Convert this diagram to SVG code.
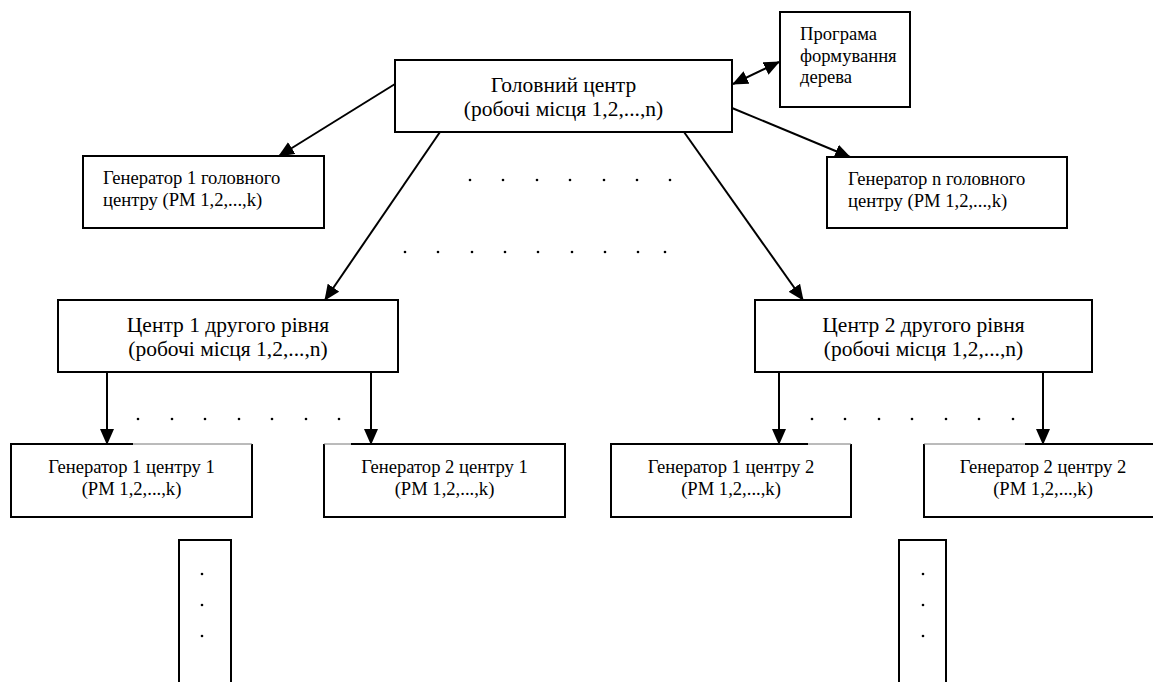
<svg xmlns="http://www.w3.org/2000/svg" width="1153" height="682" viewBox="0 0 1153 682">
<defs>
<marker id="ah" markerUnits="userSpaceOnUse" markerWidth="16" markerHeight="14" viewBox="0 0 16 14" refX="15" refY="7" orient="auto-start-reverse">
<path d="M0,0 L16,7 L0,14 z" fill="#000"/>
</marker>
<style>
.box{fill:#fff;stroke:#000;stroke-width:2}
.edge{fill:none;stroke:#000;stroke-width:2}
.thin{fill:none;stroke:#777;stroke-width:1}
.conn{fill:none;stroke:#000;stroke-width:2;marker-end:url(#ah)}
.big{font-family:"Liberation Serif","Times New Roman",serif;font-size:21.5px;fill:#000}
.sm{font-family:"Liberation Serif","Times New Roman",serif;font-size:18.6px;fill:#000}
.c{text-anchor:middle}
.dot{fill:#000}
</style>
</defs>
<rect width="1153" height="682" fill="#fff"/>

<g id="connectors">
<line class="conn" x1="395" y1="84" x2="279" y2="156"/>
<line class="conn" x1="732" y1="108" x2="850" y2="157"/>
<line class="conn" x1="733" y1="84" x2="779" y2="62" style="marker-start:url(#ah)"/>
<line class="conn" x1="440" y1="132" x2="325" y2="300"/>
<line class="conn" x1="684" y1="132" x2="803" y2="300"/>
<line class="conn" x1="107" y1="372" x2="107" y2="444"/>
<line class="conn" x1="371" y1="372" x2="371" y2="444"/>
<line class="conn" x1="779" y1="372" x2="779" y2="444"/>
<line class="conn" x1="1043" y1="372" x2="1043" y2="444"/>
</g>

<g id="dots">
<circle class="dot" cx="470" cy="180" r="1.3"/><circle class="dot" cx="503" cy="180" r="1.3"/><circle class="dot" cx="537" cy="180" r="1.3"/><circle class="dot" cx="570" cy="180" r="1.3"/><circle class="dot" cx="604" cy="180" r="1.3"/><circle class="dot" cx="637" cy="180" r="1.3"/><circle class="dot" cx="670" cy="180" r="1.3"/>
<circle class="dot" cx="405" cy="252" r="1.3"/><circle class="dot" cx="438" cy="252" r="1.3"/><circle class="dot" cx="472" cy="252" r="1.3"/><circle class="dot" cx="505" cy="252" r="1.3"/><circle class="dot" cx="538" cy="252" r="1.3"/><circle class="dot" cx="572" cy="252" r="1.3"/><circle class="dot" cx="605" cy="252" r="1.3"/><circle class="dot" cx="638" cy="252" r="1.3"/><circle class="dot" cx="665" cy="252" r="1.3"/>
<circle class="dot" cx="138" cy="419" r="1.3"/><circle class="dot" cx="172" cy="419" r="1.3"/><circle class="dot" cx="205" cy="419" r="1.3"/><circle class="dot" cx="239" cy="419" r="1.3"/><circle class="dot" cx="272" cy="419" r="1.3"/><circle class="dot" cx="306" cy="419" r="1.3"/><circle class="dot" cx="339" cy="419" r="1.3"/>
<circle class="dot" cx="812" cy="419" r="1.3"/><circle class="dot" cx="845" cy="419" r="1.3"/><circle class="dot" cx="879" cy="419" r="1.3"/><circle class="dot" cx="912" cy="419" r="1.3"/><circle class="dot" cx="946" cy="419" r="1.3"/><circle class="dot" cx="979" cy="419" r="1.3"/><circle class="dot" cx="1013" cy="419" r="1.3"/>
</g>

<g id="main-center">
<rect class="box" x="395" y="60" width="337" height="72"/>
<text class="big c" x="563.5" y="92">Головний центр</text>
<text class="big c" x="563.5" y="116">(робочі місця 1,2,...,n)</text>
</g>

<g id="program">
<rect class="box" x="780" y="12" width="130" height="95"/>
<text class="sm" x="800" y="40">Програма</text>
<text class="sm" x="800" y="62">формування</text>
<text class="sm" x="800" y="83">дерева</text>
</g>

<g id="gen-1-main">
<rect class="box" x="83" y="156" width="241" height="72"/>
<text class="sm" x="103" y="184">Генератор 1 головного</text>
<text class="sm" x="103" y="206">центру (РМ 1,2,...,k)</text>
</g>

<g id="gen-n-main">
<rect class="box" x="827" y="157" width="240" height="71"/>
<text class="sm" x="848" y="185">Генератор n головного</text>
<text class="sm" x="848" y="207">центру (РМ 1,2,...,k)</text>
</g>

<g id="center-1">
<rect class="box" x="58" y="300" width="340" height="72"/>
<text class="big c" x="228" y="332">Центр 1 другого рівня</text>
<text class="big c" x="228" y="356">(робочі місця 1,2,...,n)</text>
</g>

<g id="center-2">
<rect class="box" x="755" y="300" width="337" height="72"/>
<text class="big c" x="923.5" y="332">Центр 2 другого рівня</text>
<text class="big c" x="923.5" y="356">(робочі місця 1,2,...,n)</text>
</g>

<g id="gen-1-center-1">
<path class="edge" d="M133,444 H11 V517 H252 V444"/>
<path class="thin" d="M133,444 H252"/>
<text class="sm c" x="131.5" y="473">Генератор 1 центру 1</text>
<text class="sm c" x="131.5" y="495">(РМ 1,2,...,k)</text>
</g>

<g id="gen-2-center-1">
<path class="edge" d="M351,444 H565 V517 H324 V444"/>
<path class="thin" d="M324,444 H351"/>
<text class="sm c" x="444.5" y="473">Генератор 2 центру 1</text>
<text class="sm c" x="444.5" y="495">(РМ 1,2,...,k)</text>
</g>

<g id="gen-1-center-2">
<path class="edge" d="M808,444 H611 V517 H851 V444"/>
<path class="thin" d="M808,444 H851"/>
<text class="sm c" x="731" y="473">Генератор 1 центру 2</text>
<text class="sm c" x="731" y="495">(РМ 1,2,...,k)</text>
</g>

<g id="gen-2-center-2">
<path class="edge" d="M1025,444 H1164 V517 H924 V444"/>
<path class="thin" d="M924,444 H1025"/>
<text class="sm c" x="1043" y="473">Генератор 2 центру 2</text>
<text class="sm c" x="1043" y="495">(РМ 1,2,...,k)</text>
</g>

<g id="continuation-1">
<path class="edge" d="M179,684 V540 H231 V684"/>
<circle class="dot" cx="202" cy="574" r="1.3"/><circle class="dot" cx="202" cy="605" r="1.3"/><circle class="dot" cx="202" cy="636" r="1.3"/>
</g>

<g id="continuation-2">
<path class="edge" d="M899,684 V540 H946 V684"/>
<circle class="dot" cx="923" cy="574" r="1.3"/><circle class="dot" cx="923" cy="605" r="1.3"/><circle class="dot" cx="923" cy="636" r="1.3"/>
</g>
</svg>
